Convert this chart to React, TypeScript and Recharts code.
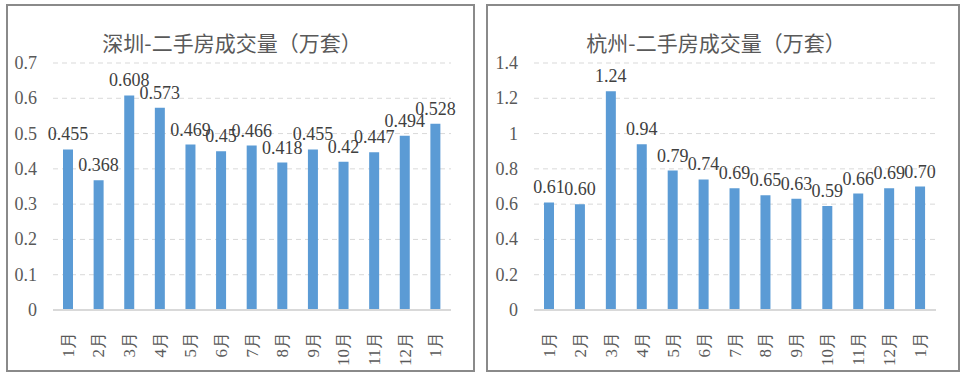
import React from 'react';
import { BarChart, Bar, XAxis, YAxis, CartesianGrid, LabelList } from 'recharts';

const months = ['1月', '2月', '3月', '4月', '5月', '6月', '7月', '8月', '9月', '10月', '11月', '12月', '1月'];
const shenzhenValues = [0.455, 0.368, 0.608, 0.573, 0.469, 0.45, 0.466, 0.418, 0.455, 0.42, 0.447, 0.494, 0.528];
const hangzhouValues = [0.61, 0.6, 1.24, 0.94, 0.79, 0.74, 0.69, 0.65, 0.63, 0.59, 0.66, 0.69, 0.7];
const shenzhenTicks = [0, 0.1, 0.2, 0.3, 0.4, 0.5, 0.6, 0.7];
const hangzhouTicks = [0, 0.2, 0.4, 0.6, 0.8, 1, 1.2, 1.4];

const shenzhenData = months.map((m, i) => ({ idx: i, month: m, value: shenzhenValues[i] }));
const hangzhouData = months.map((m, i) => ({ idx: i, month: m, value: hangzhouValues[i] }));

const SERIF = 'Liberation Serif';
const CJK = "'Noto Sans CJK SC', sans-serif";

const MonthTick = (props: any) => {
  const { x, y, payload } = props;
  const label = months[payload.value] ?? '';
  return (
    <text
      x={0}
      y={0}
      transform={`translate(${x},${y + 14}) rotate(-90)`}
      textAnchor="end"
      dominantBaseline="central"
      fill="#595959"
      fontFamily={SERIF}
      fontSize={17}
    >
      {label}
    </text>
  );
};

const ValueLabel = (props: any) => {
  const { x, y, width, value, fmt } = props;
  return (
    <text
      x={x + width / 2}
      y={y - 9}
      textAnchor="middle"
      fill="#404040"
      fontFamily={SERIF}
      fontSize={18}
    >
      {fmt(Number(value))}
    </text>
  );
};

const YTick = (props: any) => {
  const { x, y, payload } = props;
  return (
    <text
      x={x}
      y={y}
      textAnchor="end"
      dominantBaseline="central"
      fill="#595959"
      fontFamily={SERIF}
      fontSize={18}
    >
      {String(payload.value)}
    </text>
  );
};

type PanelProps = {
  left: number;
  width: number;
  boxLeft: number;
  boxWidth: number;
  title: string;
  titleX: number;
  data: { idx: number; month: string; value: number }[];
  ticks: number[];
  max: number;
  marginLeft: number;
  marginRight: number;
  fmt: (v: number) => string;
};

const Panel = (p: PanelProps) => (
  <>
    <div
      style={{
        position: 'absolute',
        left: p.boxLeft,
        top: 4,
        width: p.boxWidth,
        height: 368,
        border: '2px solid #8a8a8a',
        boxSizing: 'border-box',
        background: '#fff',
      }}
    />
    <div
      style={{
        position: 'absolute',
        left: p.titleX - 200,
        width: 400,
        top: 28,
        textAlign: 'center',
        fontFamily: CJK,
        fontSize: 21,
        lineHeight: '28px',
        color: '#595959',
      }}
    >
      {p.title}
    </div>
    <div style={{ position: 'absolute', left: p.left, top: 0 }}>
      <BarChart
        width={p.width}
        height={381}
        data={p.data}
        margin={{ top: 63, right: p.marginRight, bottom: 11, left: p.marginLeft }}
        barCategoryGap={0}
      >
        <CartesianGrid vertical={false} stroke="#d9d9d9" strokeDasharray="5 4" />
        <XAxis
          dataKey="idx"
          type="category"
          height={60}
          tick={<MonthTick />}
          tickLine={false}
          axisLine={{ stroke: '#d9d9d9', strokeWidth: 2 }}
          interval={0}
        />
        <YAxis
          width={40}
          domain={[0, p.max]}
          ticks={p.ticks}
          tickSize={0}
          tickMargin={16}
          tickLine={false}
          axisLine={false}
          tick={<YTick />}
        />
        <Bar dataKey="value" fill="#5b9bd5" barSize={10} isAnimationActive={false}>
          <LabelList dataKey="value" content={(lp: any) => <ValueLabel {...lp} fmt={p.fmt} />} />
        </Bar>
      </BarChart>
    </div>
  </>
);

export default function App() {
  return (
    <div style={{ position: 'fixed', left: 0, top: 0, width: 964, height: 381, background: '#fff' }}>
      <Panel
        left={0}
        width={480}
        boxLeft={6}
        boxWidth={469}
        title="深圳-二手房成交量（万套）"
        titleX={232}
        data={shenzhenData}
        ticks={shenzhenTicks}
        max={0.7}
        marginLeft={13}
        marginRight={29}
        fmt={(v) => String(v)}
      />
      <Panel
        left={480}
        width={484}
        boxLeft={486}
        boxWidth={474}
        title="杭州-二手房成交量（万套）"
        titleX={716}
        data={hangzhouData}
        ticks={hangzhouTicks}
        max={1.4}
        marginLeft={14}
        marginRight={28}
        fmt={(v) => v.toFixed(2)}
      />
    </div>
  );
}
